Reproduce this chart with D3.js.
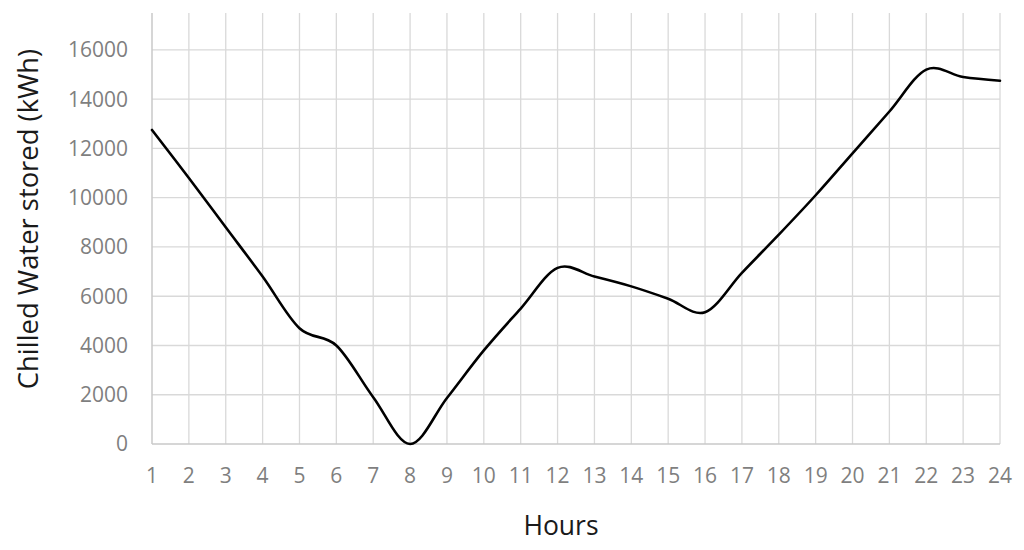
<!DOCTYPE html>
<html>
<head>
<meta charset="utf-8">
<script src="https://cdn.jsdelivr.net/npm/d3@7"></script>
<style>
  html, body { margin: 0; padding: 0; background: #ffffff; }
  svg { display: block; }
</style>
</head>
<body>
<svg id="chart" width="1024" height="550"></svg>
<script>
const hours = [1,2,3,4,5,6,7,8,9,10,11,12,13,14,15,16,17,18,19,20,21,22,23,24];
const stored = [12750,10800,8800,6800,4700,4000,1900,0,1870,3800,5500,7150,6800,6400,5900,5350,6950,8500,10100,11800,13500,15200,14900,14750];
const yTicks = [0,2000,4000,6000,8000,10000,12000,14000,16000];
const xTitle = "Hours";
const yTitle = "Chilled Water stored (kWh)";

(function () {
const svg = d3.select("#chart");
const pLeft = 152, pRight = 1000, pTop = 13, pBottom = 444;

const x = d3.scaleLinear().domain([1, 24]).range([pLeft, pRight]);
const y = d3.scaleLinear().domain([0, 17500]).range([pBottom, pTop]);

const font = "'Open Sans', 'DejaVu Sans', sans-serif";

// horizontal gridlines
svg.append("g").selectAll("line").data(yTicks.filter(d => d > 0)).join("line")
  .attr("x1", pLeft).attr("x2", pRight)
  .attr("y1", d => y(d)).attr("y2", d => y(d))
  .attr("stroke", "#d9d9d9").attr("stroke-width", 1.3);

// vertical gridlines
svg.append("g").selectAll("line").data(hours.filter(d => d > 1)).join("line")
  .attr("x1", d => x(d)).attr("x2", d => x(d))
  .attr("y1", pTop).attr("y2", pBottom)
  .attr("stroke", "#d9d9d9").attr("stroke-width", 1.3);

// axis lines
svg.append("line").attr("x1", pLeft).attr("x2", pRight).attr("y1", pBottom).attr("y2", pBottom)
  .attr("stroke", "#c8c8c8").attr("stroke-width", 1.5);
svg.append("line").attr("x1", pLeft).attr("x2", pLeft).attr("y1", pTop).attr("y2", pBottom)
  .attr("stroke", "#c8c8c8").attr("stroke-width", 1.5);

// y tick labels
svg.append("g").selectAll("text").data(yTicks).join("text")
  .attr("x", 128).attr("y", d => y(d))
  .attr("dy", "0.35em")
  .attr("text-anchor", "end")
  .attr("font-family", font).attr("font-size", 21)
  .attr("fill", "#7f7f7f")
  .text(d => d);

// x tick labels
svg.append("g").selectAll("text").data(hours).join("text")
  .attr("x", d => x(d)).attr("y", 476)
  .attr("dy", "0.35em")
  .attr("text-anchor", "middle")
  .attr("font-family", font).attr("font-size", 21)
  .attr("fill", "#7f7f7f")
  .text(d => d);

// titles
svg.append("text")
  .attr("x", 561).attr("y", 526)
  .attr("dy", "0.35em")
  .attr("text-anchor", "middle")
  .attr("font-family", font).attr("font-size", 26.5)
  .attr("fill", "#1a1a1a")
  .text(xTitle);

svg.append("text")
  .attr("transform", "translate(28," + 219 + ") rotate(-90)")
  .attr("dy", "0.35em")
  .attr("text-anchor", "middle")
  .attr("font-family", font).attr("font-size", 27.4)
  .attr("fill", "#1a1a1a")
  .text(yTitle);

// line
const line = d3.line()
  .x((d, i) => x(hours[i]))
  .y(d => y(d))
  .curve(d3.curveCardinal.tension(0));

svg.append("path")
  .datum(stored)
  .attr("d", line)
  .attr("fill", "none")
  .attr("stroke", "#000000")
  .attr("stroke-width", 2.6)
  .attr("stroke-linejoin", "round")
  .attr("stroke-linecap", "round");
})();
</script>
</body>
</html>
